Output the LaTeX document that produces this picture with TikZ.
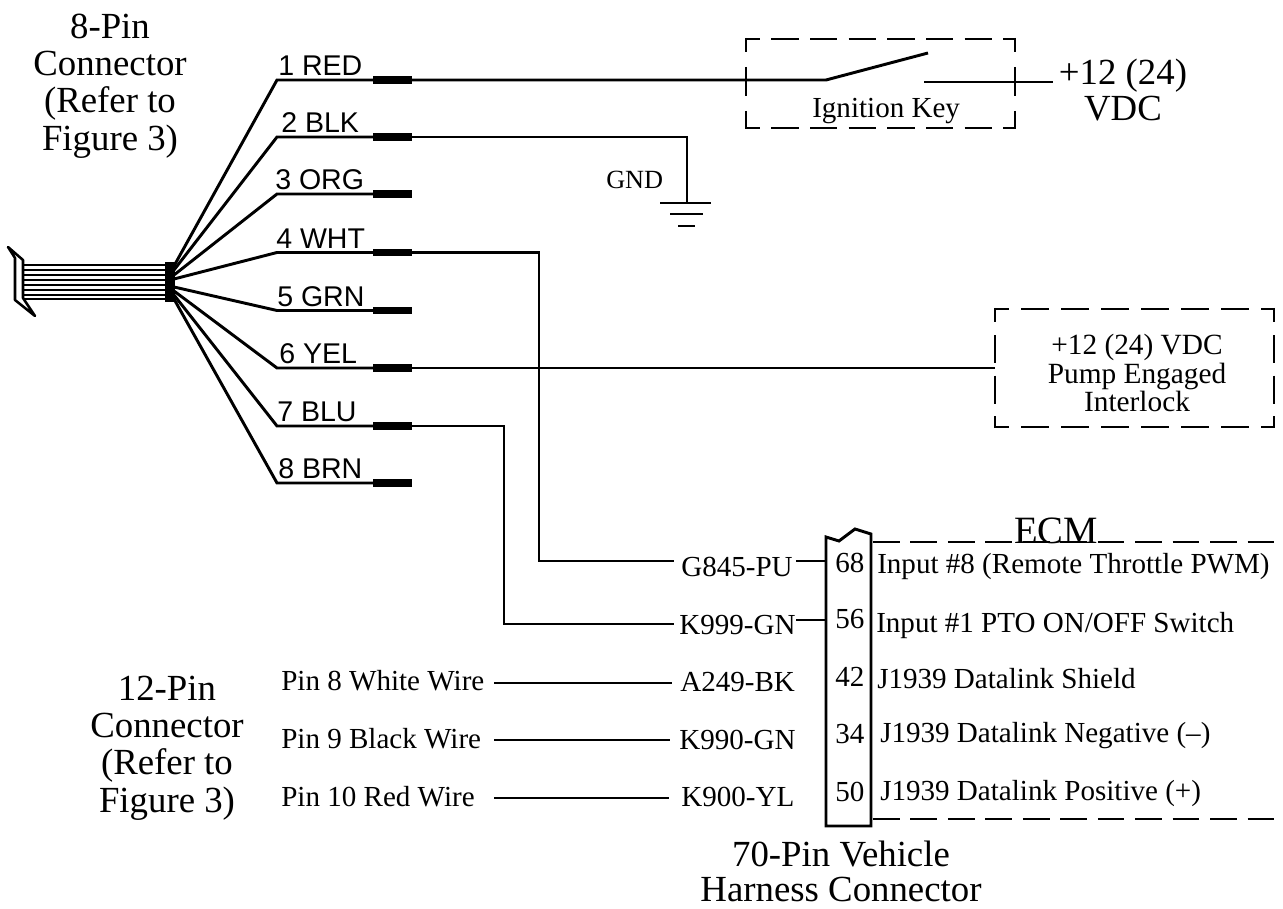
\documentclass[tikz,border=0pt]{standalone}
\usepackage{fontspec}
\setmainfont{Liberation Serif}
\setsansfont{Liberation Sans}
\begin{document}
\begin{tikzpicture}[x=0.75pt,y=-0.75pt,
  wire/.style={line width=2.2pt,line cap=butt},
  pinbar/.style={line width=5.8pt},
  hdash/.style={line width=2.2pt,dash pattern=on 20.6pt off 8.4pt,dash phase=10pt},
  vdash/.style={line width=2.2pt,dash pattern=on 21.6pt off 11.4pt,dash phase=11.4pt},
  hdashb/.style={line width=2.2pt,dash pattern=on 21pt off 9pt,dash phase=10.2pt},
  vdashb/.style={line width=2.2pt,dash pattern=on 21pt off 9.5pt,dash phase=10.2pt},
  ecmdash/.style={line width=2.2pt,dash pattern=on 20pt off 8.1pt},
  big/.style={font=\fontsize{27.6}{28}\selectfont,align=center,inner sep=0pt},
  bigline/.style={font=\fontsize{27.6}{28}\selectfont,inner sep=0pt,anchor=base},
  small/.style={font=\fontsize{21.8}{25}\selectfont,inner sep=0pt,anchor=base west},
  wirelabel/.style={font=\sffamily\fontsize{21.4}{24}\selectfont,inner sep=0pt,anchor=base west},
]
\useasboundingbox (0,0) rectangle (1283,909);
% text
\node[big] (t8) at (110,86) {8-Pin\\Connector\\(Refer to\\Figure 3)};
\node[big] (t12) at (167,748) {12-Pin\\Connector\\(Refer to\\Figure 3)};
\node[big,font=\fontsize{27.6}{26.7}\selectfont] (tv) at (1123,90) {+12 (24)\\VDC};
\node[bigline] (tharn) at (841,866) {70-Pin Vehicle};
\node[bigline] (tharnb) at (841,901.5) {Harness Connector};
\node[bigline,font=\fontsize{29}{30}\selectfont] (tecm) at (1056,543) {ECM};
% ribbon
\foreach \y in {265,270,275,280,285,290,295,299} {\draw[line width=2.2pt] (23,\y) -- (166,\y);}
\draw[line width=1.9pt,line join=round,line cap=round] (8,247) -- (23,260) -- (23,298) -- (35,316) -- (15,300) -- (15,258) -- cycle;
\fill (165,262) rectangle (175,302);
% pins
\foreach \n/\lab/\y/\lx/\hy in {1/1 RED/80/278/266,2/2 BLK/137/281/270,3/3 ORG/194/275/275,4/4 WHT/252.5/276/279,5/5 GRN/310.5/277/287,6/6 YEL/368/279/291,7/7 BLU/426/277/295,8/8 BRN/483/278/299}{
  \coordinate (h\n) at (174,\hy);
  \coordinate (p\n) at (277,\y);
  \coordinate (e\n) at (373,\y);
  \coordinate (b\n) at (412,\y);
  \node[wirelabel] (l\n) at (\lx,\y-4) {\lab};
  \draw[wire] (h\n) -- (p\n) -- (e\n);
  \draw[pinbar] (e\n) -- (b\n);
}
% ignition
\coordinate (sw1) at (826,80);
\coordinate (sw2) at (928,53);
\coordinate (sw3) at (924,82);
\coordinate (vdc) at (1053,82);
\draw[wire] (b1) -- (sw1) -- (sw2);
\draw[wire] (sw3) -- (vdc);
\draw[hdash] (746,39) -- (1015,39);
\draw[hdash] (746,128) -- (1015,128);
\draw[vdash] (746,38) -- (746,129);
\draw[vdash] (1015,38) -- (1015,129);
\node[small] (ign) at (812,118) {Ignition Key};
% ground
\coordinate (gt) at (687,137);
\coordinate (gb) at (687,203);
\draw[wire,line join=miter] (b2) -- (gt) -- (gb);
\draw[wire] (660,203) -- (711,203);
\draw[wire] (670,214) -- (703,214);
\draw[wire] (678,226) -- (695,226);
\node[small,font=\fontsize{19.7}{22}\selectfont] (gnd) at (606,189) {GND};
% interlock
\draw[hdashb] (995,309) -- (1274,309);
\draw[hdashb] (995,427) -- (1274,427);
\draw[vdashb] (995,308) -- (995,428);
\draw[vdashb] (1274,308) -- (1274,428);
\node[big,font=\fontsize{22}{21.4}\selectfont] (lock) at (1137,373) {+12 (24) VDC\\Pump Engaged\\Interlock};
\coordinate (lk) at (995,368);
\draw[wire] (b6) -- (lk);
% codes
\node[small] (ca) at (681,576) {G845-PU};
\node[small] (cb) at (679,634) {K999-GN};
\node[small] (cc) at (680,691) {A249-BK};
\node[small] (cd) at (679,749) {K990-GN};
\node[small] (ce) at (681,806) {K900-YL};
\coordinate (gl) at (674,561);
\coordinate (kl) at (674,624);
\draw[wire,line join=miter] (b4) -- (539,252.5) -- (539,561) -- (gl);
\draw[wire,line join=miter] (b7) -- (504,426) -- (504,624) -- (kl);
\node[small] (wa) at (281,690) {Pin 8 White Wire};
\node[small] (wb) at (281,748) {Pin 9 Black Wire};
\node[small] (wc) at (281,806) {Pin 10 Red Wire};
\coordinate (wae) at (494,683);
\coordinate (wbe) at (494,740);
\coordinate (wce) at (494,798);
\coordinate (wax) at (672,683);
\coordinate (wbx) at (670,740);
\coordinate (wcx) at (669,798);
\draw[wire] (wae) -- (wax);
\draw[wire] (wbe) -- (wbx);
\draw[wire] (wce) -- (wcx);
% harness connector
\draw[wire,line join=miter] (826,826) -- (826,537) -- (839,541) -- (855,529) -- (871,534) -- (871,826) -- cycle;
\coordinate (h68) at (826,561);
\coordinate (h56) at (826,620);
\coordinate (s68) at (796,561);
\coordinate (s56) at (796,620);
\draw[wire] (s68) -- (h68);
\draw[wire] (s56) -- (h56);
\node[small] (n68) at (835,572) {68};
\node[small] (n56) at (835,628) {56};
\node[small] (n42) at (835,686) {42};
\node[small] (n34) at (835,743) {34};
\node[small] (n50) at (835,801) {50};
\node[small] (i1) at (877,573) {Input \#8 (Remote Throttle PWM)};
\node[small] (i2) at (876,632) {Input \#1 PTO ON/OFF Switch};
\node[small] (i3) at (877,688) {J1939 Datalink Shield};
\node[small] (i4) at (880,742) {J1939 Datalink Negative (–)};
\node[small] (i5) at (880,800) {J1939 Datalink Positive (+)};
% ECM dashes
\coordinate (ecma) at (873,542);
\coordinate (ecmb) at (1283,542);
\coordinate (ecmc) at (873,819);
\coordinate (ecmd) at (1283,819);
\draw[ecmdash] (ecma) -- (ecmb);
\draw[ecmdash] (ecmc) -- (ecmd);
\end{tikzpicture}
\end{document}
